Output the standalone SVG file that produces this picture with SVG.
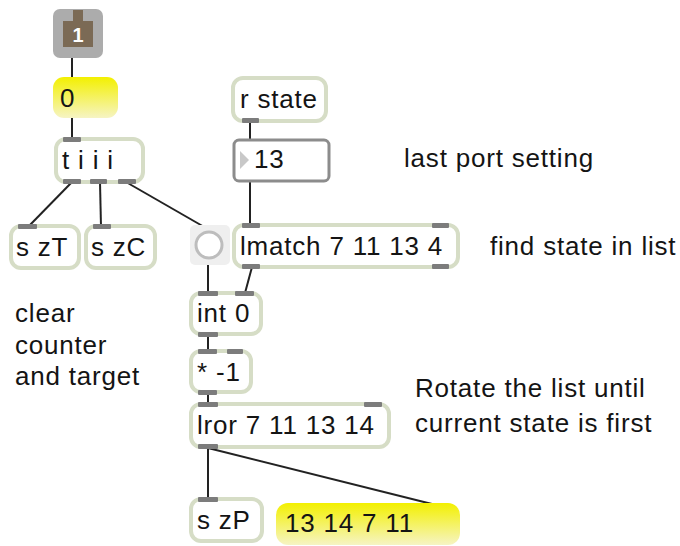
<svg xmlns="http://www.w3.org/2000/svg" width="680" height="546" viewBox="0 0 680 546">
<style>
text{font-family:"Liberation Sans",Arial,sans-serif;font-size:26px;letter-spacing:0.8px;fill:#141414}
.obj{fill:#fff;stroke:#d6ddc6;stroke-width:4}
.io{fill:#7c7c7c}
.cn{stroke:#222;stroke-width:2;fill:none}
.msg{fill:url(#yel);stroke:none}
</style>
<defs>
<linearGradient id="yel" x1="0" y1="0" x2="0" y2="1">
<stop offset="0" stop-color="#f3f000"/>
<stop offset="1" stop-color="#f6f4c4"/>
</linearGradient>
</defs>
<g id="connectors">
<line class="cn" x1="72" y1="58" x2="72" y2="78"/>
<line class="cn" x1="72" y1="118" x2="72" y2="139"/>
<line class="cn" x1="72" y1="182" x2="28" y2="227"/>
<line class="cn" x1="100" y1="182" x2="101" y2="227"/>
<line class="cn" x1="126" y1="182" x2="206" y2="228"/>
<line class="cn" x1="250" y1="122" x2="250" y2="139"/>
<line class="cn" x1="250" y1="182" x2="250" y2="224"/>
<line class="cn" x1="208" y1="265" x2="208" y2="293"/>
<line class="cn" x1="252" y1="267" x2="245" y2="293"/>
<line class="cn" x1="208" y1="335" x2="208" y2="351"/>
<line class="cn" x1="208" y1="393" x2="208" y2="404"/>
<line class="cn" x1="208" y1="448" x2="208" y2="499"/>
<line class="cn" x1="208" y1="448" x2="440" y2="506"/>
</g>
<g id="inlet1">
<rect x="53" y="9" width="50" height="49" rx="7" fill="#acacac"/>
<path d="M63 21 H73 V10 H83 V21 H93 V47 H63 Z" fill="#7b6a55"/>
<text x="78" y="42" text-anchor="middle" style="font-size:20px;font-weight:bold;fill:#fff;letter-spacing:0">1</text>
</g>
<g id="msg0">
<rect class="msg" x="53" y="77" width="65" height="41" rx="11"/>
<text x="60" y="107">0</text>
</g>
<g id="trigger">
<rect class="obj" x="56" y="139" width="87" height="43" rx="10"/>
<rect class="io" x="63" y="137" width="18" height="5" rx="1"/>
<rect class="io" x="63" y="179" width="18" height="5" rx="1"/>
<rect class="io" x="90" y="179" width="17" height="5" rx="1"/>
<rect class="io" x="118" y="179" width="18" height="5" rx="1"/>
<text x="62" y="169">t i i i</text>
</g>
<g id="szT">
<rect class="obj" x="11" y="226" width="68" height="42" rx="10"/>
<rect class="io" x="18" y="224" width="19" height="5" rx="1"/>
<text x="16" y="256">s zT</text>
</g>
<g id="szC">
<rect class="obj" x="86" y="226" width="69" height="42" rx="10"/>
<rect class="io" x="93" y="224" width="18" height="5" rx="1"/>
<text x="91" y="256">s zC</text>
</g>
<g id="button">
<rect x="190" y="225" width="40" height="40" rx="5" fill="#efefef"/>
<circle cx="209" cy="245" r="13" fill="#fff" stroke="#bdbdbd" stroke-width="3"/>
</g>
<g id="rstate">
<rect class="obj" x="233" y="78" width="93" height="43" rx="10"/>
<rect class="io" x="242" y="118" width="17" height="5" rx="1"/>
<text x="240" y="108">r state</text>
</g>
<g id="numbox">
<rect x="234" y="140" width="95" height="41" rx="5" fill="#fff" stroke="#8c8c8c" stroke-width="3"/>
<path d="M240 151 L249 160 L240 169 Z" fill="#c8c8c8"/>
<text x="254" y="168">13</text>
</g>
<g id="lmatch">
<rect class="obj" x="234" y="225" width="224" height="42" rx="10"/>
<rect class="io" x="242" y="223" width="18" height="5" rx="1"/>
<rect class="io" x="432" y="223" width="17" height="5" rx="1"/>
<rect class="io" x="242" y="264" width="18" height="5" rx="1"/>
<rect class="io" x="432" y="264" width="17" height="5" rx="1"/>
<text x="240" y="255">lmatch 7 11 13 4</text>
</g>
<g id="int0">
<rect class="obj" x="191" y="293" width="70" height="41" rx="10"/>
<rect class="io" x="198" y="291" width="20" height="5" rx="1"/>
<rect class="io" x="235" y="291" width="19" height="5" rx="1"/>
<rect class="io" x="198" y="332" width="20" height="5" rx="1"/>
<text x="197" y="322">int 0</text>
</g>
<g id="mul">
<rect class="obj" x="191" y="351" width="60" height="41" rx="10"/>
<rect class="io" x="198" y="349" width="19" height="5" rx="1"/>
<rect class="io" x="227" y="349" width="16" height="5" rx="1"/>
<rect class="io" x="198" y="390" width="19" height="5" rx="1"/>
<text x="197" y="381">* -1</text>
</g>
<g id="lror">
<rect class="obj" x="191" y="404" width="198" height="43" rx="10"/>
<rect class="io" x="198" y="402" width="20" height="5" rx="1"/>
<rect class="io" x="364" y="402" width="18" height="5" rx="1"/>
<rect class="io" x="198" y="444" width="20" height="5" rx="1"/>
<text x="197" y="434">lror 7 11 13 14</text>
</g>
<g id="szP">
<rect class="obj" x="191" y="499" width="71" height="42" rx="10"/>
<rect class="io" x="198" y="497" width="20" height="5" rx="1"/>
<text x="197" y="529">s zP</text>
</g>
<g id="msgout">
<rect class="msg" x="276" y="503" width="184" height="42" rx="12"/>
<text x="285" y="532">13 14 7 11</text>
</g>
<g id="comments">
<text x="404" y="167">last port setting</text>
<text x="490" y="255">find state in list</text>
<text x="15" y="322">clear</text>
<text x="15" y="354">counter</text>
<text x="15" y="385">and target</text>
<text x="415" y="397">Rotate the list until</text>
<text x="415" y="432">current state is first</text>
</g>
</svg>
